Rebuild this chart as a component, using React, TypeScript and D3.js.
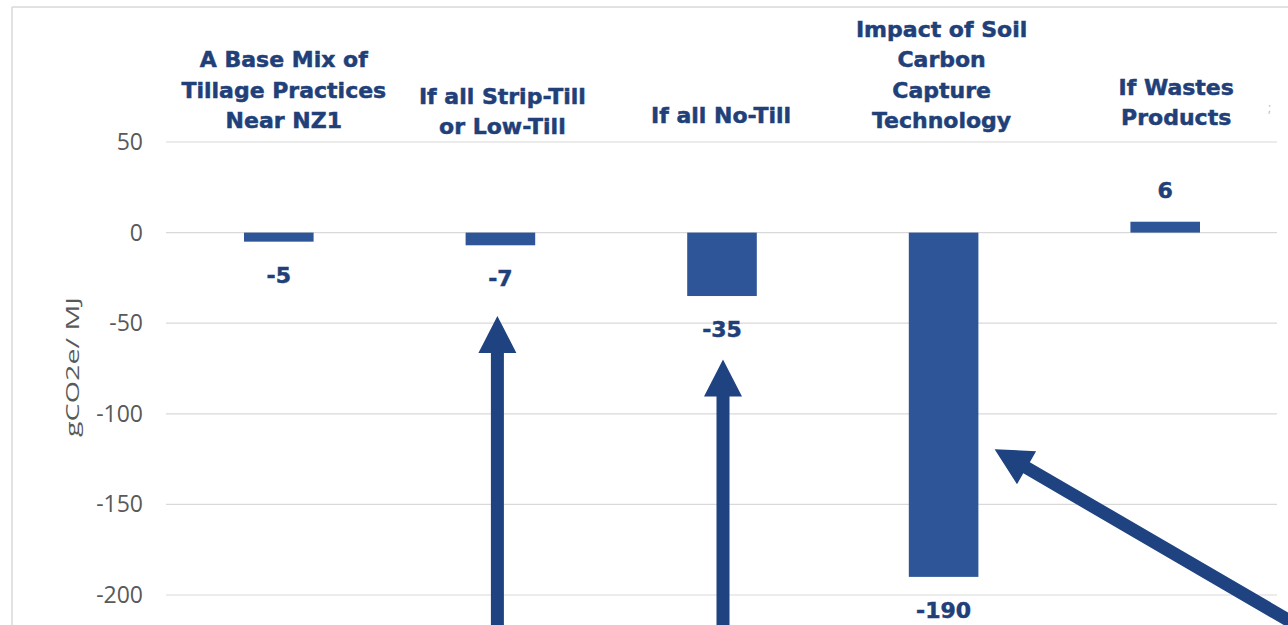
import React from "react";
import * as d3 from "d3";

// Category headings (line breaks mark the wrapped lines)
const categories: string[] = [
  "A Base Mix of\nTillage Practices\nNear NZ1",
  "If all Strip-Till\nor Low-Till",
  "If all No-Till",
  "Impact of Soil\nCarbon\nCapture\nTechnology",
  "If Wastes\nProducts",
];

// Emissions change, gCO2e/MJ
const values: number[] = [-5, -7, -35, -190, 6];

const yTicks: number[] = [50, 0, -50, -100, -150, -200];
const yTitle = "gCO2e/ MJ";

// Call-out arrows: anchored to a category, with the tip at a value on the y axis
const arrows = [
  { category: 1, dx: -3, value: -46, dirX: 0, dirY: 1 },
  { category: 2, dx: 1, value: -70, dirX: 0, dirY: 1 },
  { category: 3, dx: 51, value: -119.5, dirX: 0.864, dirY: 0.503 },
];

const W = 1288;
const H = 625;

const BAR = "#2E5597";
const NAVY = "#213F78";
const ARROW = "#1F4281";
const GRID = "#d9d9d9";

// Heading placement: baseline of the last line, and horizontal nudge from the bar centre
const headingBaselines = [128, 134, 123, 128, 125];
const headingNudge = [5, 2, -1, -2, 11];

function arrowPath(tipX: number, tipY: number, ux: number, uy: number) {
  const shaft = 6.5;
  const headLen = 37;
  const headHalf = 19;
  const len = 500;
  const px = -uy;
  const py = ux;
  const bx = tipX + ux * headLen;
  const by = tipY + uy * headLen;
  const ex = tipX + ux * len;
  const ey = tipY + uy * len;
  const pts = [
    [tipX, tipY],
    [bx + px * headHalf, by + py * headHalf],
    [bx + px * shaft, by + py * shaft],
    [ex + px * shaft, ey + py * shaft],
    [ex - px * shaft, ey - py * shaft],
    [bx - px * shaft, by - py * shaft],
    [bx - px * headHalf, by - py * headHalf],
  ];
  return "M" + pts.map((p) => p.join(",")).join("L") + "Z";
}

export default function App() {
  const x = d3
    .scaleBand<number>()
    .domain(d3.range(categories.length))
    .range([168, 1276])
    .paddingInner(0.686)
    .paddingOuter(0.343);
  const y = d3.scaleLinear().domain([-200, 50]).range([595, 142]);
  const cx = (i: number) => (x(i) as number) + x.bandwidth() / 2;

  return (
    <div style={{ position: "fixed", left: 0, top: 0 }}>
      <svg width={W} height={H} style={{ display: "block", background: "#fff" }}>
        {/* chart frame */}
        <line x1={12} y1={7} x2={W} y2={7} stroke={GRID} strokeWidth={1.5} />
        <line x1={12} y1={7} x2={12} y2={H} stroke={GRID} strokeWidth={1.5} />

        {/* gridlines and tick labels */}
        {yTicks.map((t) => (
          <g key={t}>
            <line x1={166} x2={1277} y1={y(t)} y2={y(t)} stroke={GRID} strokeWidth={1.2} />
            <text
              x={143}
              y={y(t)}
              dy="0.35em"
              textAnchor="end"
              fontFamily="'Open Sans', sans-serif"
              fontSize={23}
              fill="#595959"
            >
              {t}
            </text>
          </g>
        ))}

        {/* y axis title */}
        <text
          transform={`translate(79,367) rotate(-90)`}
          textAnchor="middle"
          fontFamily="'Open Sans', sans-serif"
          fontSize={19}
          fill="#595959"
          textLength={140}
          lengthAdjust="spacingAndGlyphs"
        >
          {yTitle}
        </text>

        {/* bars */}
        {values.map((v, i) => (
          <rect
            key={i}
            x={x(i)}
            y={y(Math.max(0, v))}
            width={x.bandwidth()}
            height={Math.abs(y(v) - y(0))}
            fill={BAR}
          />
        ))}

        {/* value labels */}
        {values.map((v, i) => (
          <text
            key={i}
            x={cx(i)}
            y={v < 0 ? y(v) + 41 : y(v) - 24}
            textAnchor="middle"
            fontFamily="'DejaVu Sans', sans-serif"
            fontWeight="bold"
            fontSize={22}
            fill={NAVY}
            stroke={NAVY}
            strokeWidth={0.5}
          >
            {v}
          </text>
        ))}

        {/* category headings */}
        {categories.map((c, i) => {
          const lines = c.split("\n");
          return (
            <text
              key={i}
              textAnchor="middle"
              fontFamily="'DejaVu Sans', sans-serif"
              fontWeight="bold"
              fontSize={22}
              fill={NAVY}
              stroke={NAVY}
              strokeWidth={0.5}
            >
              {lines.map((l, k) => (
                <tspan
                  key={k}
                  x={cx(i) + headingNudge[i]}
                  y={headingBaselines[i] - (lines.length - 1 - k) * 30.5}
                >
                  {l}
                </tspan>
              ))}
            </text>
          );
        })}

        {/* call-out arrows */}
        {arrows.map((a, i) => (
          <path key={i} d={arrowPath(cx(a.category) + a.dx, y(a.value), a.dirX, a.dirY)} fill={ARROW} />
        ))}

        <text x={1268} y={112} fontFamily="'Open Sans', sans-serif" fontSize={12} fill="#bbb">
          ;
        </text>
      </svg>
    </div>
  );
}
